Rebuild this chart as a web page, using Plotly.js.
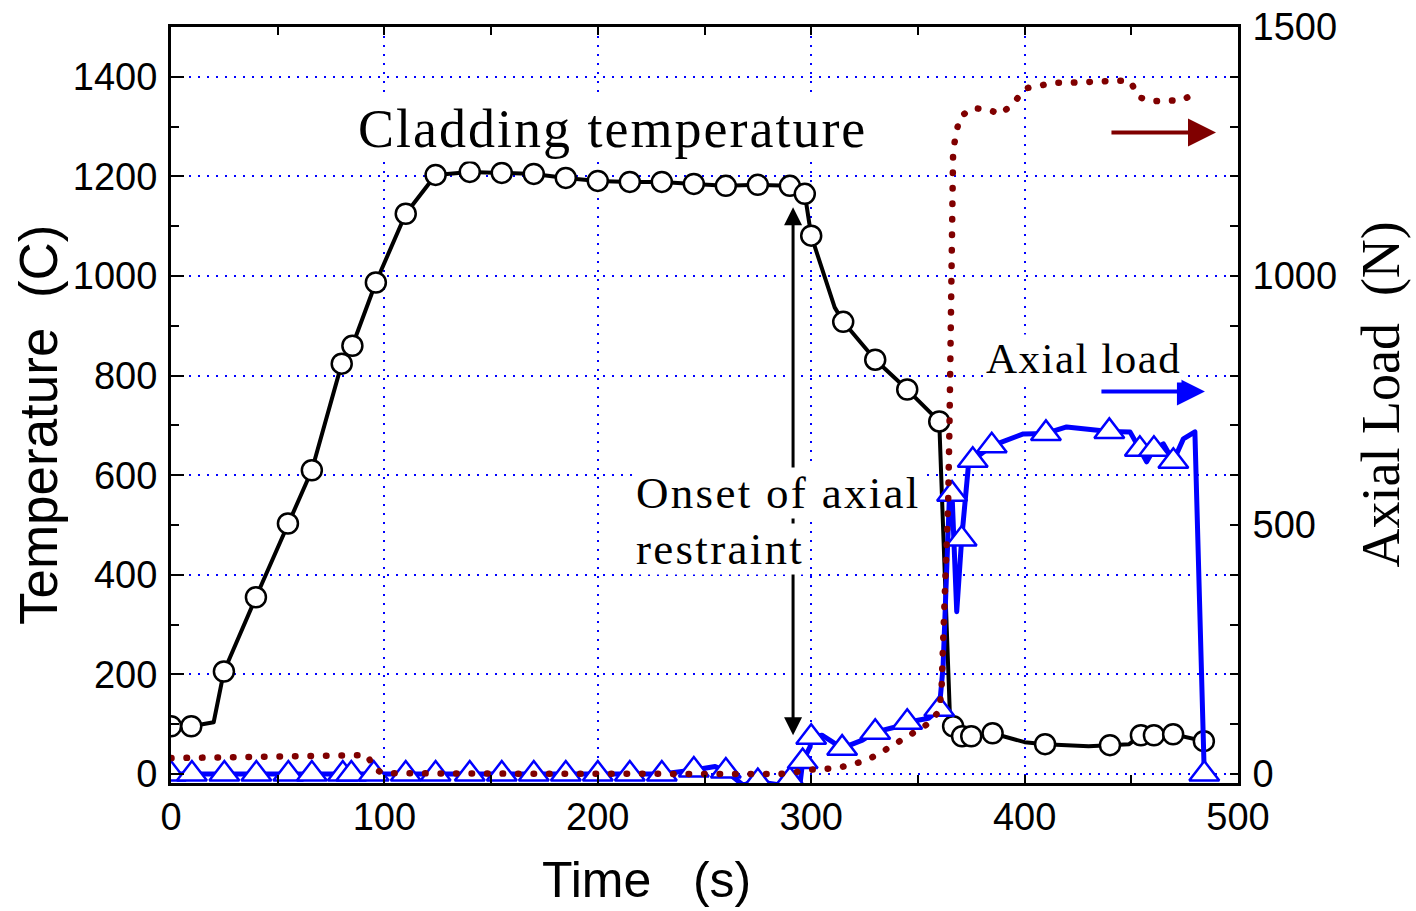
<!DOCTYPE html>
<html><head><meta charset="utf-8">
<script src="https://cdn.plot.ly/plotly-3.0.1.min.js"></script>
<style>
html,body{margin:0;padding:0;background:#fff;}
#chart{width:1416px;height:911px;}
.scatterlayer .js-line{stroke-linecap:round;stroke-linejoin:round;}
</style></head><body><div id="chart"></div>
<script>
// Cladding temperature (C) - measured points (circles)
const tempTime = [0,9.5,24.8,39.8,54.8,66,80,85,96,110,124,140,155,170,185,200,215,230,245,260,275,290,297,300,315,330,345,360,366.5,370.7,375,385,409.6,440,454.5,460.6,469.6,484];
const tempC    = [96,96,206,355,503,610,824,860,987,1125,1203,1209,1207,1205,1197,1191,1189,1189,1185,1181,1183,1181,1165,1081,908,832,772,708,96,76,76,82,60,58,78,78,80,66];
// extra vertices of the temperature curve between markers
const tempBendTime = [20,311,365,400,430,449];
const tempBendC    = [104,937,118,64,56,60];

// Axial load (N) - triangles
const loadMarkTime = [0,9.8,25,40,55,66,80.5,84.5,95,110,124,140,155,170,185,200,215,230,245,260,275,290,296,300,314.5,330,345,360,366,370.5,375.7,384.6,410,439.7,454,460.6,469.7,484.2];
const loadMarkN    = [0,0,0,0,0,0,0,0,0,0,0,0,0,0,0,0,0,0,8,6,-15,-12,25,74,52,84,104,130,562,472,630,659,684,688,652,652,628,0];
// extra vertices of the load curve
const loadBendTime = [3,255,268,285.4,294.7,299.5,305,324,340,355,361.8,365,368.2,373.6,399.4,419.7,449.4,457.2,465,474.4,479.8];
const loadBendN    = [0,15,-22,-22,-22,55,78,68,95,112,215,584,326,616,683,697,687,627,663,673,687];

// Axial load, second (dotted dark red) record
const load2Time = [0,20,40,60,80,92,95,99,130,170,210,250,285,292,297,305,312,320,327,333,340,345,349,356,359.5,361,361.8,363,364.2,364.8,365.2,365.5,366,366.5,367.9,369.7,375.4,382,389,395.5,400.6,407.7,414,421,428.8,435.3,442.4,449.4,453.6,459.7,466.7,473.8,480.8];
const load2N    = [32,34,36,38,39,38,12,2,1,0,0,0,0,3,8,10,12,20,30,44,62,74,84,104,125,160,263,400,550,700,850,1000,1160,1250,1287,1319,1337,1335,1325,1351,1377,1383,1388,1388,1390,1390,1392,1392,1359,1351,1353,1353,1369];

// Text
const xTitle = 'Time\u00a0\u00a0\u00a0(s)';
const yTitle = 'Temperature\u00a0\u00a0(C)';
const y2Title = 'Axial Load\u00a0\u00a0(N)';

function mergeSorted(t1, v1, t2, v2) {
  const pts = t1.map((t, i) => [t, v1[i]]).concat(t2.map((t, i) => [t, v2[i]]));
  pts.sort((a, b) => a[0] - b[0]);
  return {x: pts.map(p => p[0]), y: pts.map(p => p[1])};
}
const tempLine = mergeSorted(tempTime, tempC, tempBendTime, tempBendC);
const loadLine = mergeSorted(loadMarkTime, loadMarkN, loadBendTime, loadBendN);

const BLUE = '#0000ff', RED = '#800000';
const traces = [
  {x: loadLine.x, y: loadLine.y, yaxis: 'y2', mode: 'lines', line: {color: BLUE, width: 5}},
  {x: loadMarkTime, y: loadMarkN, yaxis: 'y2', mode: 'markers',
   marker: {symbol: 'triangle-up', size: 26, color: '#ffffff', line: {color: BLUE, width: 2.5}}},
  {x: tempLine.x, y: tempLine.y, mode: 'lines', line: {color: '#000000', width: 4}},
  {x: tempTime, y: tempC, mode: 'markers',
   marker: {symbol: 'circle', size: 20, color: '#ffffff', line: {color: '#000000', width: 2.5}}},
  {x: load2Time, y: load2N, yaxis: 'y2', mode: 'lines', line: {color: RED, width: 6.5, dash: '0.5px,15px'}}
];

const SANS = 'Liberation Sans, Arial, sans-serif';
const SERIF = 'Liberation Serif, Times New Roman, serif';

const layout = {
  width: 1416, height: 911,
  margin: {l: 171, r: 178, t: 27, b: 128},
  paper_bgcolor: '#ffffff', plot_bgcolor: '#ffffff',
  showlegend: false,
  xaxis: {
    range: [0, 500], dtick: 100, tick0: 0,
    showline: true, linecolor: '#000', linewidth: 3, mirror: 'allticks',
    ticks: 'inside', ticklen: 8, tickwidth: 2, tickcolor: '#000',
    minor: {dtick: 50, ticks: 'inside', ticklen: 8, tickwidth: 2, tickcolor: '#000', showgrid: false},
    showgrid: true, gridcolor: BLUE, gridwidth: 2, griddash: '2px,7px',
    zeroline: false,
    tickfont: {family: SANS, size: 38, color: '#000'},
    ticklabelstandoff: -2,
    automargin: false
  },
  yaxis: {
    range: [-18, 1500], dtick: 200, tick0: 0,
    showline: true, linecolor: '#000', linewidth: 3, mirror: false,
    ticks: 'inside', ticklen: 13, tickwidth: 2, tickcolor: '#000',
    minor: {dtick: 100, ticks: 'inside', ticklen: 8, tickwidth: 2, tickcolor: '#000', showgrid: false},
    showgrid: true, gridcolor: BLUE, gridwidth: 2, griddash: '2px,7px',
    zeroline: false,
    tickfont: {family: SANS, size: 38, color: '#000'},
    ticklabelstandoff: 3,
    automargin: false
  },
  yaxis2: {
    overlaying: 'y', side: 'right',
    range: [-18, 1500], dtick: 500, tick0: 0,
    showline: true, linecolor: '#000', linewidth: 3,
    ticks: 'inside', ticklen: 8, tickwidth: 2, tickcolor: '#000',
    minor: {dtick: 100, ticks: 'inside', ticklen: 8, tickwidth: 2, tickcolor: '#000', showgrid: false},
    showgrid: false, zeroline: false,
    tickfont: {family: SANS, size: 38, color: '#000'},
    ticklabelstandoff: 4,
    automargin: false
  },
  annotations: [
    // axis titles
    {x: 0.446, y: -0.1283, xref: 'paper', yref: 'paper', showarrow: false, xanchor: 'center', yanchor: 'middle',
     text: xTitle, font: {family: SANS, size: 50, color: '#000'}},
    {x: -0.1246, y: 0.4735, xref: 'paper', yref: 'paper', showarrow: false, xanchor: 'center', yanchor: 'middle',
     textangle: -90, text: yTitle, font: {family: SANS, size: 53, color: '#000'}},
    {x: 1.1345, y: 0.5132, xref: 'paper', yref: 'paper', showarrow: false, xanchor: 'center', yanchor: 'middle',
     textangle: -90, text: y2Title, font: {family: SERIF, size: 54, color: '#000'}},
    // arrows
    {x: 291.5, y: 78, ax: 291.5, ay: 1141, xref: 'x', yref: 'y', axref: 'x', ayref: 'y',
     text: '', showarrow: true, arrowhead: 2, arrowside: 'end+start', arrowsize: 1.2, arrowwidth: 3, arrowcolor: '#000'},
    {x: 489.7, y: 1288, ax: 440, ay: 1288, xref: 'x', yref: 'y', axref: 'x', ayref: 'y',
     text: '', showarrow: true, arrowhead: 2, arrowsize: 1.4, arrowwidth: 4, arrowcolor: RED},
    {x: 484.5, y: 768, ax: 435.3, ay: 768, xref: 'x', yref: 'y', axref: 'x', ayref: 'y',
     text: '', showarrow: true, arrowhead: 2, arrowsize: 1.4, arrowwidth: 4, arrowcolor: BLUE},
    // labels
    {x: 206.7, y: 1295, xref: 'x', yref: 'y', showarrow: false, xanchor: 'center', yanchor: 'middle',
     text: '<span style="letter-spacing:2px">Cladding temperature</span>',
     font: {family: SERIF, size: 54, color: '#000'}, bgcolor: '#ffffff', borderpad: 2},
    {x: 217.4, y: 565, xref: 'x', yref: 'y', showarrow: false, xanchor: 'left', yanchor: 'middle',
     text: '<span style="letter-spacing:2.3px">Onset of axial</span>',
     font: {family: SERIF, size: 45, color: '#000'}, bgcolor: '#ffffff', borderpad: 0},
    {x: 217.4, y: 451, xref: 'x', yref: 'y', showarrow: false, xanchor: 'left', yanchor: 'middle',
     text: '<span style="letter-spacing:2.3px">restraint</span>',
     font: {family: SERIF, size: 45, color: '#000'}, bgcolor: '#ffffff', borderpad: 0},
    {x: 381.4, y: 834, xref: 'x', yref: 'y', showarrow: false, xanchor: 'left', yanchor: 'middle',
     text: '<span style="letter-spacing:1.5px">Axial load</span>',
     font: {family: SERIF, size: 43, color: '#000'}, bgcolor: '#ffffff', borderpad: 0}
  ]
};

Plotly.newPlot('chart', traces, layout, {displayModeBar: false, staticPlot: true});
</script></body></html>
